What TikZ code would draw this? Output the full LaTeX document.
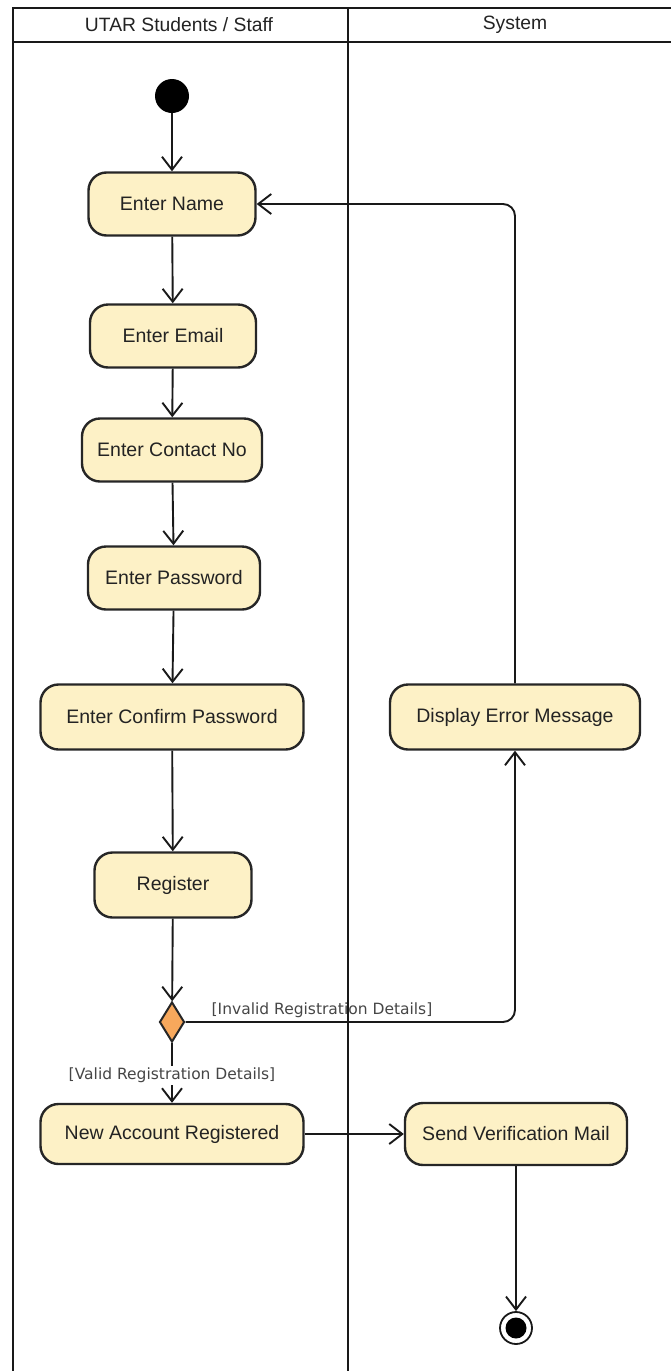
\documentclass[tikz,border=0pt]{standalone}
\usepackage{fontspec}
\setmainfont{Liberation Sans}
\newfontfamily\guardfont{DejaVu Sans}
\usetikzlibrary{arrows.meta,shapes.geometric}
\definecolor{actfill}{RGB}{253,241,198}
\definecolor{decfill}{RGB}{247,168,92}
\definecolor{inktext}{RGB}{35,35,35}
\definecolor{guardtext}{RGB}{70,70,70}
\begin{document}
\begin{tikzpicture}[x=1pt,y=-1pt,
  lane/.style={line width=2.9pt, draw=black!90},
  lanetitle/.style={font=\fontsize{19.3}{22}\selectfont, text=inktext},
  action/.style={draw=black!85, line width=2.4pt, fill=actfill, rounded corners=18pt,
    minimum height=63pt, inner sep=0pt, font=\fontsize{19.5}{22}\selectfont, text=inktext},
  decision/.style={diamond, draw=black!85, line width=2pt, fill=decfill,
    minimum width=25pt, minimum height=40pt, inner sep=0pt},
  guard/.style={font=\guardfont\fontsize{15.5}{18}\selectfont, text=guardtext, inner sep=2pt},
  flow/.style={line width=1.9pt, draw=black!90, -{Straight Barb[length=13pt,width=20pt]}}
]
\useasboundingbox (0,0) rectangle (671,1371);
\clip (0,0) rectangle (671,1371);

% swimlane frame
\draw[lane] (13,1380) -- (13,8) -- (690,8);
\draw[lane] (13,42) -- (690,42);
\draw[lane] (348,8) -- (348,1380);
\node[lanetitle] (laneA) at (179,25) {UTAR Students / Staff};
\node[lanetitle] (laneB) at (515,25) {System};

% actions of the user lane
\node[circle, fill=black, minimum size=34pt, inner sep=0pt] (start) at (172,96) {};
\node[action, minimum width=167pt] (name) at (172,204) {Enter Name};
\node[action, minimum width=166pt] (email) at (173,336) {Enter Email};
\node[action, minimum width=180pt] (contact) at (172,450) {Enter Contact No};
\node[action, minimum width=172pt] (pass) at (174,578) {Enter Password};
\node[action, minimum width=263pt, minimum height=65pt] (confirm) at (172,717) {Enter Confirm Password};
\node[action, minimum width=157pt, minimum height=65pt] (register) at (173,885) {Register};
\node[decision] (dec) at (172,1022) {};
\node[action, minimum width=263pt, minimum height=60pt] (newacc) at (172,1134) {New Account Registered};

% actions of the system lane
\node[action, minimum width=250pt, minimum height=65pt] (err) at (515,717) {Display Error Message};
\node[action, minimum width=222pt, minimum height=62pt] (mail) at (516,1134) {Send Verification Mail};
\node[circle, draw=black!90, line width=1.8pt, minimum size=32pt, inner sep=0pt] (end) at (516,1328) {};
\fill[black] (end.center) circle (10.5pt);

% control flow
\draw[flow] (start) -- (name);
\draw[flow] (name) -- (email);
\draw[flow] (email) -- (contact);
\draw[flow] (contact) -- (pass);
\draw[flow] (pass) -- (confirm);
\draw[flow] (confirm) -- (register);
\draw[flow] (register) -- (dec);
\draw[flow] (dec) -- (newacc);
\node[guard, fill=white] (gvalid) at (172,1075) {[Valid Registration Details]};
\draw[flow, rounded corners=12pt] (dec.east) -| (err.south);
\node[guard] (ginvalid) at (322,1010) {[Invalid Registration Details]};
\draw[flow, rounded corners=12pt] (err.north) |- (name.east);
\draw[flow] (newacc) -- (mail);
\draw[flow] (mail) -- (end);
\end{tikzpicture}
\end{document}
